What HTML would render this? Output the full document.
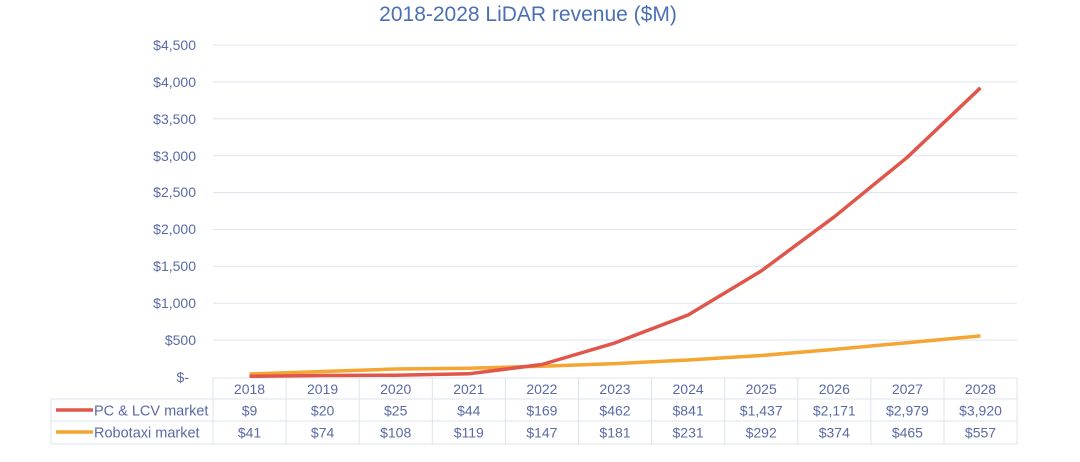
<!DOCTYPE html><html><head><style>body{margin:0;background:#fff}svg{display:block}text{font-family:"Liberation Sans",sans-serif;fill:#5a6aa6}</style></head><body>
<svg width="1080" height="462" viewBox="0 0 1080 462">
<text x="528" y="21" font-size="21" text-anchor="middle" style="fill:#4a6fb5">2018-2028 LiDAR revenue ($M)</text>
<g stroke="#dde3ee" stroke-width="1">
<line x1="213" x2="1017" y1="45" y2="45"/><line x1="213" x2="1017" y1="81.9" y2="81.9"/><line x1="213" x2="1017" y1="118.8" y2="118.8"/><line x1="213" x2="1017" y1="155.7" y2="155.7"/><line x1="213" x2="1017" y1="192.6" y2="192.6"/><line x1="213" x2="1017" y1="229.4" y2="229.4"/><line x1="213" x2="1017" y1="266.3" y2="266.3"/><line x1="213" x2="1017" y1="303.2" y2="303.2"/><line x1="213" x2="1017" y1="340.1" y2="340.1"/>
</g>
<g font-size="14" text-anchor="end">
<text x="196" y="50">$4,500</text><text x="196" y="87">$4,000</text><text x="196" y="124">$3,500</text><text x="196" y="161">$3,000</text><text x="196" y="197">$2,500</text><text x="196" y="234">$2,000</text><text x="196" y="271">$1,500</text><text x="196" y="308">$1,000</text><text x="196" y="345">$500</text><text x="189" y="382">$-</text>
</g>
<g stroke="#dde3ee" fill="none">
<rect x="213" y="378" width="804" height="66"/>
<line x1="51" y1="399" x2="1017" y2="399"/><line x1="51" y1="421" x2="1017" y2="421"/>
<polyline points="213,399 51,399 51,444 213,444"/>
<line x1="286.1" y1="378" x2="286.1" y2="444"/><line x1="359.2" y1="378" x2="359.2" y2="444"/><line x1="432.3" y1="378" x2="432.3" y2="444"/><line x1="505.4" y1="378" x2="505.4" y2="444"/><line x1="578.5" y1="378" x2="578.5" y2="444"/><line x1="651.6" y1="378" x2="651.6" y2="444"/><line x1="724.7" y1="378" x2="724.7" y2="444"/><line x1="797.8" y1="378" x2="797.8" y2="444"/><line x1="870.9" y1="378" x2="870.9" y2="444"/><line x1="944" y1="378" x2="944" y2="444"/>
</g>
<polyline fill="none" stroke="#f4a532" stroke-width="3.5" stroke-linejoin="round" points="249.5,374 322.6,371.5 395.7,369 468.8,368.2 541.9,366.2 615,363.6 688.1,360 761.2,355.5 834.3,349.4 907.4,342.7 980.5,335.9"/>
<polyline fill="none" stroke="#e0564a" stroke-width="3.5" stroke-linejoin="round" points="249.5,376.3 322.6,375.5 395.7,375.2 468.8,373.8 541.9,364.5 615,342.9 688.1,315 761.2,271 834.3,216.8 907.4,157.2 980.5,87.8"/>
<line x1="56" y1="410" x2="93" y2="410" stroke="#e0564a" stroke-width="3.5"/>
<line x1="56" y1="432" x2="93" y2="432" stroke="#f4a532" stroke-width="3.5"/>
<g font-size="14.5"><text x="94" y="415.5">PC &amp; LCV market</text><text x="94" y="437.5">Robotaxi market</text></g>
<g font-size="14" text-anchor="middle">
<text x="249.5" y="394">2018</text><text x="322.6" y="394">2019</text><text x="395.7" y="394">2020</text><text x="468.8" y="394">2021</text><text x="541.9" y="394">2022</text><text x="615" y="394">2023</text><text x="688.1" y="394">2024</text><text x="761.2" y="394">2025</text><text x="834.3" y="394">2026</text><text x="907.4" y="394">2027</text><text x="980.5" y="394">2028</text>
<text x="249.5" y="415.5">$9</text><text x="322.6" y="415.5">$20</text><text x="395.7" y="415.5">$25</text><text x="468.8" y="415.5">$44</text><text x="541.9" y="415.5">$169</text><text x="615" y="415.5">$462</text><text x="688.1" y="415.5">$841</text><text x="761.2" y="415.5">$1,437</text><text x="834.3" y="415.5">$2,171</text><text x="907.4" y="415.5">$2,979</text><text x="980.5" y="415.5">$3,920</text>
<text x="249.5" y="437.5">$41</text><text x="322.6" y="437.5">$74</text><text x="395.7" y="437.5">$108</text><text x="468.8" y="437.5">$119</text><text x="541.9" y="437.5">$147</text><text x="615" y="437.5">$181</text><text x="688.1" y="437.5">$231</text><text x="761.2" y="437.5">$292</text><text x="834.3" y="437.5">$374</text><text x="907.4" y="437.5">$465</text><text x="980.5" y="437.5">$557</text>
</g>
</svg></body></html>
